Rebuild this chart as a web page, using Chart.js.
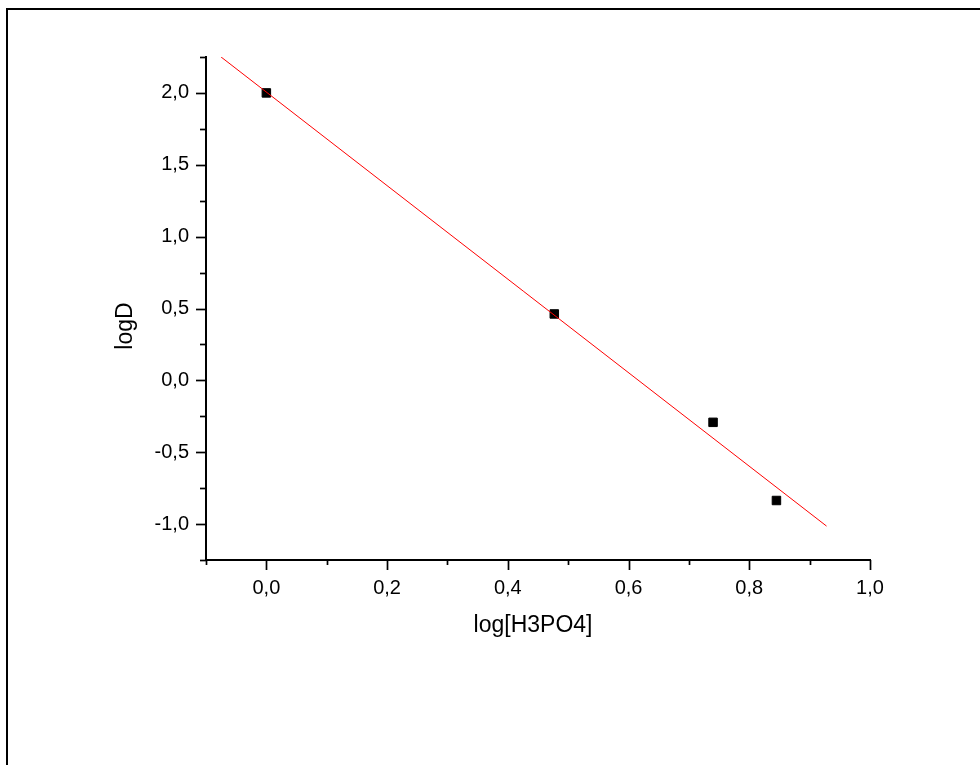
<!DOCTYPE html>
<html>
<head>
<meta charset="utf-8">
<script src="https://cdn.jsdelivr.net/npm/chart.js@4"></script>
<style>
  html, body { margin: 0; padding: 0; background: #fff; }
  #wrap { position: relative; width: 980px; height: 765px; }
  #frame { position: absolute; left: 6px; top: 8px; right: 0; bottom: 0;
           border-top: 2px solid #000; border-left: 2px solid #000; pointer-events: none; }
  canvas { position: absolute; left: 0; top: 0; }
</style>
</head>
<body>
<div id="wrap">
  <canvas id="c" width="980" height="765"></canvas>
  <div id="frame"></div>
</div>
<script>
const xValues = [0.0, 0.477, 0.740, 0.845];
const yValues = [2.0, 0.462, -0.292, -0.836];
// Linear fit line endpoints
const fitX = [-0.075, 0.928];
const fitY = [2.25, -1.014];

const xTitle = 'log[H3PO4]';
const yTitle = 'logD';

const pointData = xValues.map((x, i) => ({ x: x, y: yValues[i] }));
const fitData = fitX.map((x, i) => ({ x: x, y: fitY[i] }));

const fmt = v => v.toFixed(1).replace('.', ',');
const FONT = "'Liberation Sans', Arial, sans-serif";

const tickPlugin = {
  id: 'originTicks',
  afterDraw(chart) {
    const ctx = chart.ctx;
    ctx.save();
    ctx.strokeStyle = '#000';
    ctx.lineWidth = 1.7;
    const xs = chart.scales.x, ys = chart.scales.y;
    const bottom = chart.chartArea.bottom, left = chart.chartArea.left;
    xs.ticks.forEach(t => {
      const n = Math.round(t.value * 10);
      const len = (n % 2 === 0) ? 10 : 5;
      const px = Math.round(xs.getPixelForValue(t.value)) + 0.5;
      ctx.beginPath(); ctx.moveTo(px, bottom); ctx.lineTo(px, bottom + len); ctx.stroke();
    });
    ys.ticks.forEach(t => {
      const n = Math.round(t.value * 4);
      const len = (n % 2 === 0) ? 10 : 6;
      const py = Math.round(ys.getPixelForValue(t.value)) + 0.5;
      ctx.beginPath(); ctx.moveTo(left, py); ctx.lineTo(left - len, py); ctx.stroke();
    });
    // axis titles (positioned as in the reference)
    ctx.fillStyle = '#000';
    ctx.font = '23px ' + FONT;
    ctx.textAlign = 'center';
    ctx.textBaseline = 'middle';
    ctx.fillText(xTitle, 533, 626);
    ctx.translate(126, 326);
    ctx.rotate(-Math.PI / 2);
    ctx.fillText(yTitle, 0, 0);
    ctx.restore();
  }
};

new Chart(document.getElementById('c'), {
  type: 'scatter',
  data: {
    datasets: [
      {
        label: 'fit',
        data: fitData,
        showLine: true,
        borderColor: '#ff0000',
        borderWidth: 1,
        pointRadius: 0,
        fill: false,
        order: 0
      },
      {
        label: 'data',
        data: pointData,
        pointStyle: 'rect',
        pointRadius: 6,
        pointBackgroundColor: '#000',
        pointBorderColor: '#000',
        pointBorderWidth: 1,
        showLine: false,
        order: 1
      }
    ]
  },
  options: {
    responsive: false,
    animation: false,
    devicePixelRatio: 1,
    layout: { padding: { left: 0, top: 57, right: 110, bottom: 0 } },
    plugins: { legend: { display: false }, tooltip: { enabled: false } },
    scales: {
      x: {
        type: 'linear',
        min: -0.1, max: 1.0,
        afterFit(s) { s.height = 205; },
        grid: { display: false, drawTicks: false },
        border: { display: true, color: '#000', width: 2 },
        ticks: {
          stepSize: 0.1,
          padding: 16,
          color: '#000',
          font: { family: FONT, size: 20 },
          maxRotation: 0, autoSkip: false,
          callback: v => (Math.round(v * 10) % 2 === 0 ? fmt(v) : '')
        },
        title: { display: false, text: xTitle }
      },
      y: {
        type: 'linear',
        min: -1.25, max: 2.25,
        afterFit(s) { s.width = 206; },
        grid: { display: false, drawTicks: false },
        border: { display: true, color: '#000', width: 2 },
        ticks: {
          stepSize: 0.25,
          padding: 17,
          color: '#000',
          font: { family: FONT, size: 20 },
          autoSkip: false,
          callback: v => (Math.round(v * 4) % 2 === 0 ? fmt(v) : '')
        },
        title: { display: false, text: yTitle }
      }
    }
  },
  plugins: [tickPlugin]
});
</script>
</body>
</html>
